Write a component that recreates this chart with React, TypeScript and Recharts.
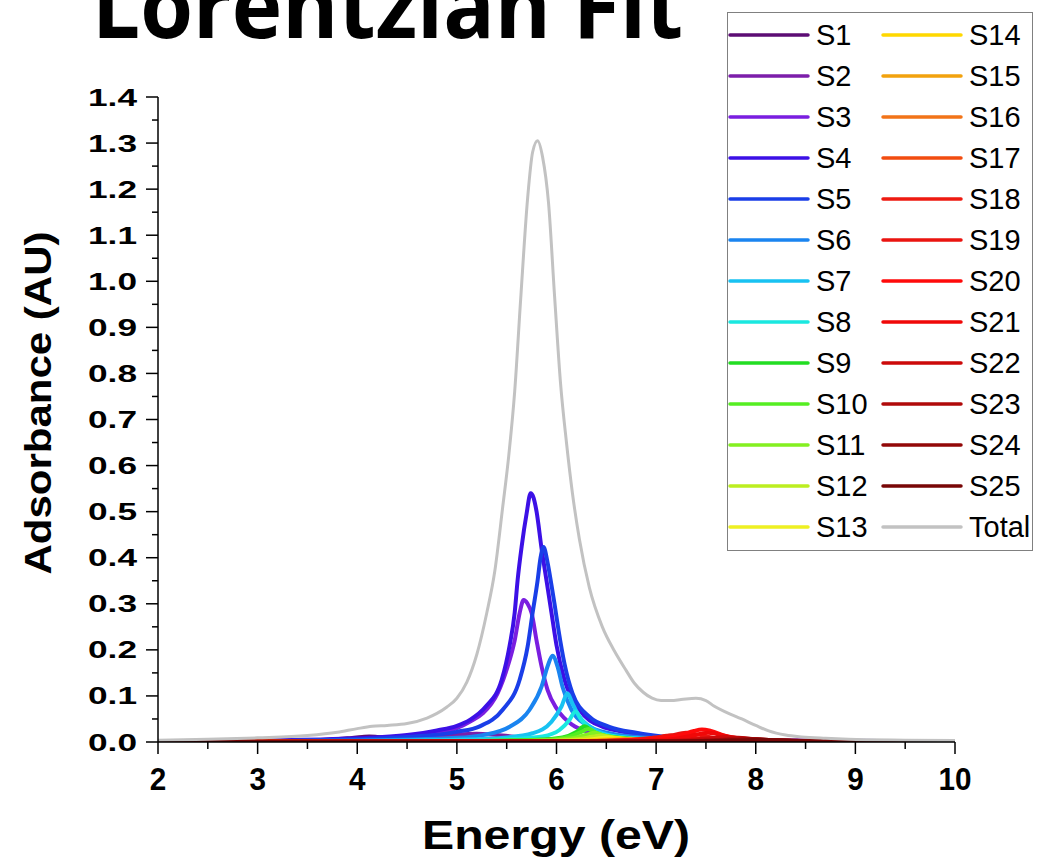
import React from 'react'
import { LineChart, Line, XAxis, YAxis } from 'recharts'

type Pt = [number, number]

// energy (eV) axis ticks, majors every 1, minors every 0.5
const energyTicks = [2, 2.5, 3, 3.5, 4, 4.5, 5, 5.5, 6, 6.5, 7, 7.5, 8, 8.5, 9, 9.5, 10]
// absorbance ticks, majors every 0.1, minors every 0.05
const absTicks = [
  0, 0.05, 0.1, 0.15, 0.2, 0.25, 0.3, 0.35, 0.4, 0.45, 0.5, 0.55, 0.6, 0.65, 0.7,
  0.75, 0.8, 0.85, 0.9, 0.95, 1.0, 1.05, 1.1, 1.15, 1.2, 1.25, 1.3, 1.35, 1.4,
]

const seriesNames = [
  'S1', 'S2', 'S3', 'S4', 'S5', 'S6', 'S7', 'S8', 'S9', 'S10', 'S11', 'S12', 'S13',
  'S14', 'S15', 'S16', 'S17', 'S18', 'S19', 'S20', 'S21', 'S22', 'S23', 'S24', 'S25', 'Total',
]
const seriesColors = [
  '#5c0c74', '#7c1eaa', '#7a1ee0', '#3c10e6', '#1a3ee8', '#1a84f0', '#18c2f2', '#1ae8e0',
  '#22dd22', '#55ee22', '#84f020', '#bcee20', '#eef022', '#ffd800', '#f2a20e', '#f27418',
  '#f24c10', '#ee1a10', '#ea1410', '#ff0a0a', '#f00808', '#cc0a0a', '#b00a0a', '#920808',
  '#780606', '#c2c2c2',
]

// [energy, absorbance]
const S1: Pt[] = [[2, 0.001], [3, 0.002], [3.6, 0.004], [3.9, 0.008], [4.05, 0.011], [4.12, 0.012], [4.2, 0.011], [4.35, 0.008], [4.7, 0.004], [5.5, 0.002], [7, 0.001], [10, 0.0005]]
const S2: Pt[] = [[2, 0.0005], [3.5, 0.002], [4.4, 0.006], [4.8, 0.012], [5.0, 0.016], [5.2, 0.018], [5.4, 0.015], [5.7, 0.009], [6.2, 0.004], [7, 0.002], [10, 0.0005]]
const S3: Pt[] = [[2, 0.001], [3, 0.002], [4, 0.006], [4.5, 0.012], [4.8, 0.02], [5.0, 0.03], [5.13, 0.044], [5.26, 0.062], [5.41, 0.106], [5.51, 0.164], [5.58, 0.22], [5.63, 0.28], [5.67, 0.308], [5.71, 0.3], [5.75, 0.28], [5.8, 0.22], [5.85, 0.164], [5.91, 0.113], [6.01, 0.07], [6.16, 0.037], [6.3, 0.023], [6.6, 0.012], [7, 0.006], [8, 0.002], [10, 0.001]]
const S4: Pt[] = [[2, 0.001], [3, 0.003], [4, 0.008], [4.5, 0.015], [4.8, 0.025], [5.0, 0.035], [5.13, 0.048], [5.29, 0.077], [5.45, 0.135], [5.53, 0.21], [5.58, 0.28], [5.61, 0.352], [5.65, 0.424], [5.7, 0.496], [5.74, 0.54], [5.77, 0.53], [5.8, 0.5], [5.85, 0.42], [5.9, 0.35], [5.95, 0.28], [6.0, 0.21], [6.08, 0.135], [6.23, 0.07], [6.46, 0.033], [6.63, 0.024], [7, 0.012], [7.5, 0.006], [8.5, 0.003], [10, 0.001]]
const S5: Pt[] = [[2, 0.001], [3, 0.002], [4, 0.006], [4.5, 0.011], [5.0, 0.022], [5.23, 0.034], [5.46, 0.07], [5.63, 0.135], [5.71, 0.207], [5.76, 0.28], [5.81, 0.35], [5.84, 0.4], [5.87, 0.423], [5.91, 0.39], [5.95, 0.34], [5.98, 0.3], [6.02, 0.243], [6.08, 0.17], [6.16, 0.106], [6.33, 0.055], [6.53, 0.033], [6.8, 0.02], [7.1, 0.011], [7.5, 0.006], [8.5, 0.002], [10, 0.001]]
const S6: Pt[] = [[2, 0.0005], [4, 0.003], [5, 0.009], [5.26, 0.015], [5.53, 0.033], [5.73, 0.07], [5.85, 0.12], [5.91, 0.164], [5.96, 0.187], [6.01, 0.164], [6.06, 0.12], [6.15, 0.07], [6.3, 0.037], [6.53, 0.019], [7, 0.008], [8, 0.003], [10, 0.001]]
const S7: Pt[] = [[2, 0.0003], [4, 0.002], [5, 0.005], [5.5, 0.01], [5.76, 0.019], [5.95, 0.044], [6.05, 0.077], [6.11, 0.106], [6.16, 0.084], [6.23, 0.055], [6.36, 0.03], [6.6, 0.012], [7, 0.006], [8, 0.002], [10, 0.0005]]
const S8: Pt[] = [[2, 0.0002], [5, 0.003], [5.6, 0.007], [5.86, 0.012], [6.03, 0.026], [6.13, 0.048], [6.19, 0.066], [6.25, 0.048], [6.33, 0.03], [6.5, 0.015], [7, 0.005], [8, 0.002], [10, 0.0005]]
const S9: Pt[] = [[2, 0.0002], [5, 0.002], [5.8, 0.005], [6.06, 0.01], [6.2, 0.022], [6.28, 0.034], [6.36, 0.023], [6.53, 0.012], [7, 0.004], [8, 0.001], [10, 0.0003]]
const S10: Pt[] = [[2, 0.0002], [5, 0.002], [5.9, 0.005], [6.12, 0.011], [6.25, 0.022], [6.32, 0.028], [6.4, 0.02], [6.56, 0.01], [7, 0.004], [8, 0.001], [10, 0.0003]]
const S11: Pt[] = [[2, 0.0001], [5.5, 0.002], [6.0, 0.005], [6.2, 0.01], [6.32, 0.017], [6.38, 0.02], [6.45, 0.016], [6.6, 0.008], [7, 0.003], [8, 0.001], [10, 0.0002]]
const S12: Pt[] = [[2, 0.0001], [5.5, 0.0015], [6.1, 0.004], [6.3, 0.009], [6.4, 0.013], [6.45, 0.014], [6.52, 0.012], [6.7, 0.006], [7.1, 0.002], [8, 0.001], [10, 0.0002]]
const S13: Pt[] = [[2, 0.0001], [5.6, 0.001], [6.2, 0.003], [6.4, 0.007], [6.48, 0.0095], [6.52, 0.01], [6.6, 0.008], [6.8, 0.004], [7.2, 0.002], [10, 0.0002]]
const S14: Pt[] = [[2, 0.0001], [5.8, 0.001], [6.3, 0.003], [6.5, 0.006], [6.62, 0.008], [6.72, 0.0065], [6.9, 0.0035], [7.4, 0.0012], [10, 0.0002]]
const S15: Pt[] = [[2, 0.0001], [6.0, 0.001], [6.45, 0.003], [6.62, 0.0055], [6.74, 0.007], [6.85, 0.0058], [7.05, 0.003], [7.5, 0.001], [10, 0.0002]]
const S16: Pt[] = [[2, 0.0001], [6.1, 0.001], [6.55, 0.003], [6.75, 0.0055], [6.86, 0.007], [6.97, 0.0058], [7.2, 0.003], [7.7, 0.001], [10, 0.0002]]
const S17: Pt[] = [[2, 0.0001], [6.2, 0.0012], [6.7, 0.0035], [6.88, 0.007], [6.98, 0.009], [7.08, 0.0075], [7.3, 0.0035], [7.8, 0.0012], [10, 0.0002]]
const S18: Pt[] = [[2, 0.0001], [6.3, 0.0015], [6.8, 0.005], [7.0, 0.01], [7.15, 0.014], [7.28, 0.011], [7.5, 0.005], [8.0, 0.0015], [10, 0.0003]]
const S19: Pt[] = [[2, 0.0001], [6.4, 0.002], [6.9, 0.006], [7.15, 0.014], [7.3, 0.02], [7.42, 0.016], [7.6, 0.008], [8.1, 0.002], [10, 0.0003]]
const S20: Pt[] = [[2, 0.0002], [6.5, 0.002], [7.0, 0.007], [7.25, 0.015], [7.38, 0.024], [7.46, 0.027], [7.55, 0.024], [7.7, 0.013], [8.0, 0.005], [8.6, 0.0015], [10, 0.0003]]
const S21: Pt[] = [[2, 0.0001], [6.6, 0.0015], [7.1, 0.005], [7.35, 0.013], [7.45, 0.018], [7.52, 0.02], [7.6, 0.018], [7.75, 0.01], [8.1, 0.003], [10, 0.0003]]
const S22: Pt[] = [[2, 0.0001], [6.8, 0.001], [7.3, 0.004], [7.55, 0.008], [7.7, 0.011], [7.82, 0.009], [8.1, 0.004], [8.7, 0.001], [10, 0.0002]]
const S23: Pt[] = [[2, 0.0001], [7.0, 0.001], [7.5, 0.003], [7.72, 0.006], [7.85, 0.008], [7.98, 0.0065], [8.3, 0.0025], [9, 0.0008], [10, 0.0002]]
const S24: Pt[] = [[2, 0.0001], [7.1, 0.001], [7.65, 0.003], [7.85, 0.005], [7.96, 0.006], [8.08, 0.005], [8.4, 0.002], [9.2, 0.0006], [10, 0.0002]]
const S25: Pt[] = [[2, 0.0002], [7.2, 0.001], [7.75, 0.0025], [7.95, 0.004], [8.05, 0.005], [8.17, 0.004], [8.5, 0.0018], [9.3, 0.0006], [10, 0.0003]]
const TOTAL: Pt[] = [
  [2, 0.004], [2.5, 0.006], [3, 0.009], [3.5, 0.014], [3.8, 0.021], [4.0, 0.029], [4.15, 0.034],
  [4.3, 0.036], [4.5, 0.04], [4.7, 0.052], [4.8, 0.062], [4.9, 0.076], [5.0, 0.095], [5.1, 0.13],
  [5.2, 0.19], [5.3, 0.28], [5.38, 0.37], [5.46, 0.51], [5.52, 0.62], [5.58, 0.76], [5.64, 0.96],
  [5.71, 1.18], [5.76, 1.28], [5.81, 1.305], [5.86, 1.27], [5.92, 1.17], [5.98, 0.97], [6.04, 0.78],
  [6.1, 0.65], [6.16, 0.54], [6.23, 0.44], [6.33, 0.335], [6.46, 0.25], [6.58, 0.198], [6.7, 0.155],
  [6.78, 0.128], [6.87, 0.108], [6.96, 0.095], [7.05, 0.09], [7.15, 0.09], [7.25, 0.092], [7.4, 0.095],
  [7.5, 0.09], [7.58, 0.078], [7.7, 0.065], [7.86, 0.05], [8.0, 0.036], [8.13, 0.024], [8.3, 0.015],
  [8.46, 0.011], [8.7, 0.008], [8.93, 0.006], [9.5, 0.004], [10, 0.003],
]

const seriesPoints = [
  S1, S2, S3, S4, S5, S6, S7, S8, S9, S10, S11, S12, S13,
  S14, S15, S16, S17, S18, S19, S20, S21, S22, S23, S24, S25, TOTAL,
]

const FONT = '"Liberation Sans", Arial, sans-serif'

function EnergyTick({ x, y, payload }: any) {
  const v = payload.value
  const major = Number.isInteger(v)
  const label = String(v)
  return (
    <g>
      <line x1={x} x2={x} y1={y} y2={y + (major ? 12 : 7)} stroke="#000" strokeWidth={1.5} />
      {major && (
        <text x={x} y={y + 48} textAnchor="middle" fontFamily={FONT} fontWeight={700} fontSize={32}
          textLength={label.length * 16.5} lengthAdjust="spacingAndGlyphs" fill="#000">
          {label}
        </text>
      )}
    </g>
  )
}

function AbsTick({ x, y, payload }: any) {
  const v = payload.value
  const major = Math.round(v * 100) % 10 === 0
  return (
    <g>
      <line x1={x} x2={x - (major ? 12 : 6)} y1={y} y2={y} stroke="#000" strokeWidth={1.5} />
      {major && (
        <text x={x - 21} y={y + 8.5} textAnchor="end" fontFamily={FONT} fontWeight={700} fontSize={24}
          textLength={49} lengthAdjust="spacingAndGlyphs" fill="#000">
          {v.toFixed(1)}
        </text>
      )}
    </g>
  )
}

function FitLegend() {
  const rows = 13
  return (
    <div style={{ position: 'absolute', left: 727, top: 12, width: 306, height: 539, border: '1.5px solid #808080', boxSizing: 'border-box', background: 'white' }}>
      <svg width={320} height={539} style={{ overflow: 'visible', position: 'absolute', left: -1.5, top: -1.5 }}>
        {seriesNames.map((name, i) => {
          const col = i < rows ? 0 : 1
          const row = i % rows
          const cy = 23 + row * 41
          const lx = col === 0 ? 3 : 156
          return (
            <g key={name}>
              <line x1={lx} x2={lx + 78} y1={cy} y2={cy} stroke={seriesColors[i]} strokeWidth={3.5} strokeLinecap="round" />
              <text x={lx + 86} y={cy + 10} fontFamily={FONT} fontSize={29} fill="#000">{name}</text>
            </g>
          )
        })}
      </svg>
    </div>
  )
}

export default function App() {
  return (
    <div style={{ position: 'absolute', left: 0, top: 0, width: 1040, height: 865, background: 'white', overflow: 'hidden' }}>
      <svg width={1040} height={865} style={{ position: 'absolute', left: 0, top: 0 }}>
        <text x={92} y={38} fontFamily='"Open Sans", sans-serif' fontWeight={700} fontSize={90}
          textLength={591} lengthAdjust="spacingAndGlyphs" fill="#000">
          Lorentzian Fit
        </text>
        <text transform="translate(51, 403) rotate(-90)" textAnchor="middle" fontFamily={FONT} fontWeight={700}
          fontSize={37} textLength={343} lengthAdjust="spacingAndGlyphs" fill="#000">
          Adsorbance (AU)
        </text>
        <text x={556} y={849} textAnchor="middle" fontFamily={FONT} fontWeight={700} fontSize={41}
          textLength={268} lengthAdjust="spacingAndGlyphs" fill="#000">
          Energy (eV)
        </text>
      </svg>
      <div style={{ position: 'absolute', left: 0, top: 0 }}>
        <LineChart width={1040} height={865} margin={{ top: 97, right: 85, bottom: 83, left: 98 }}>
          <XAxis dataKey="e" type="number" domain={[2, 10]} ticks={energyTicks} interval={0}
            tick={<EnergyTick />} tickLine={false} tickSize={0} tickMargin={0} height={40}
            axisLine={{ stroke: '#000', strokeWidth: 1.5 }} allowDataOverflow />
          <YAxis type="number" domain={[0, 1.4]} ticks={absTicks} interval={0}
            tick={<AbsTick />} tickLine={false} tickSize={0} tickMargin={0} width={60}
            axisLine={{ stroke: '#000', strokeWidth: 1.5 }} allowDataOverflow />
          {seriesPoints.map((pts, i) => (
            <Line key={seriesNames[i]} data={pts.map(([e, a]) => ({ e, a }))} dataKey="a" name={seriesNames[i]}
              type="monotone" stroke={seriesColors[i]} strokeWidth={i === 25 ? 3 : 4} dot={false} activeDot={false}
              isAnimationActive={false} />
          ))}
        </LineChart>
      </div>
      <FitLegend />
    </div>
  )
}
